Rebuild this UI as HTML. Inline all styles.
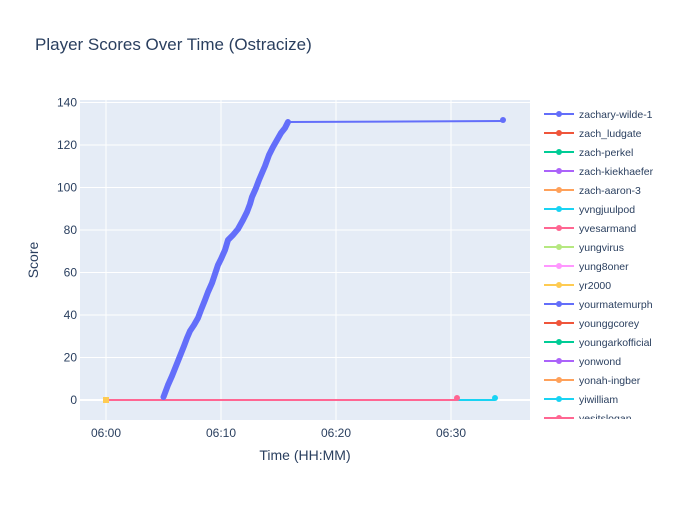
<!DOCTYPE html>
<html><head><meta charset="utf-8"><style>
body{margin:0;background:#fff;font-family:"Liberation Sans",sans-serif;}
</style></head><body>
<svg width="700" height="500" xmlns="http://www.w3.org/2000/svg" font-family="Liberation Sans, sans-serif">
<rect width="700" height="500" fill="#fff"/>
<text x="35" y="50" font-size="17" fill="#2a3f5f">Player Scores Over Time (Ostracize)</text>
<rect x="80" y="100" width="450" height="320" fill="#e5ecf6"/>
<g stroke="#fff" stroke-width="1">
<line x1="80" x2="530" y1="102.5" y2="102.5"/><line x1="80" x2="530" y1="145" y2="145"/>
<line x1="80" x2="530" y1="187.5" y2="187.5"/><line x1="80" x2="530" y1="230" y2="230"/>
<line x1="80" x2="530" y1="272.5" y2="272.5"/><line x1="80" x2="530" y1="315" y2="315"/>
<line x1="80" x2="530" y1="357.5" y2="357.5"/>
<line x1="106" x2="106" y1="100" y2="420"/><line x1="221" x2="221" y1="100" y2="420"/>
<line x1="336" x2="336" y1="100" y2="420"/><line x1="451" x2="451" y1="100" y2="420"/>
</g>
<line x1="80" x2="530" y1="400" y2="400" stroke="#fff" stroke-width="2"/>
<g font-size="12" fill="#2a3f5f" text-anchor="end">
<text x="77" y="106.5">140</text><text x="77" y="149">120</text><text x="77" y="191.5">100</text>
<text x="77" y="234">80</text><text x="77" y="276.5">60</text><text x="77" y="319">40</text>
<text x="77" y="361.5">20</text><text x="77" y="404">0</text>
</g>
<g font-size="12" fill="#2a3f5f" text-anchor="middle">
<text x="106" y="437">06:00</text><text x="221" y="437">06:10</text>
<text x="336" y="437">06:20</text><text x="451" y="437">06:30</text>
</g>
<text x="305" y="460" font-size="14" fill="#2a3f5f" text-anchor="middle">Time (HH:MM)</text>
<text transform="translate(38,260) rotate(-90)" font-size="14" fill="#2a3f5f" text-anchor="middle">Score</text>
<line x1="106" x2="457" y1="400" y2="400" stroke="#ff6692" stroke-width="2"/>
<line x1="457" x2="495" y1="400" y2="400" stroke="#19d3f3" stroke-width="2"/>
<circle cx="457" cy="398" r="3" fill="#ff6692"/>
<circle cx="495" cy="398" r="3" fill="#19d3f3"/>
<rect x="103" y="397" width="6" height="6" fill="#fecb52"/>
<line x1="288" x2="503" y1="122" y2="121" stroke="#636efa" stroke-width="2"/>
<circle cx="503" cy="120" r="3" fill="#636efa"/>
<polyline fill="none" stroke="#636efa" stroke-width="6" stroke-linecap="round" stroke-linejoin="round"
points="163.5,397 168,385 172,376 176,366 180,356 184,346 187,338 190,331 194,325 198,318 201,310 205,300 208,292 212,283 215,274 218,265 221,259 225,250 228,240 233,235 238,229 243,220 247,212 250,204 252,197 256,188 259,180 262,173 265,166 269,155 273,147 277,140 281,133 285,128 288,122"/>
<g font-size="10.5" fill="#2a3f5f">
<g stroke-width="2">
<line x1="544" x2="574" y1="114" y2="114" stroke="#636efa"/><circle cx="559" cy="114" r="3" fill="#636efa"/>
<line x1="544" x2="574" y1="133" y2="133" stroke="#ef553b"/><circle cx="559" cy="133" r="3" fill="#ef553b"/>
<line x1="544" x2="574" y1="152" y2="152" stroke="#00cc96"/><circle cx="559" cy="152" r="3" fill="#00cc96"/>
<line x1="544" x2="574" y1="171" y2="171" stroke="#ab63fa"/><circle cx="559" cy="171" r="3" fill="#ab63fa"/>
<line x1="544" x2="574" y1="190" y2="190" stroke="#ffa15a"/><circle cx="559" cy="190" r="3" fill="#ffa15a"/>
<line x1="544" x2="574" y1="209" y2="209" stroke="#19d3f3"/><circle cx="559" cy="209" r="3" fill="#19d3f3"/>
<line x1="544" x2="574" y1="228" y2="228" stroke="#ff6692"/><circle cx="559" cy="228" r="3" fill="#ff6692"/>
<line x1="544" x2="574" y1="247" y2="247" stroke="#b6e880"/><circle cx="559" cy="247" r="3" fill="#b6e880"/>
<line x1="544" x2="574" y1="266" y2="266" stroke="#ff97ff"/><circle cx="559" cy="266" r="3" fill="#ff97ff"/>
<line x1="544" x2="574" y1="285" y2="285" stroke="#fecb52"/><circle cx="559" cy="285" r="3" fill="#fecb52"/>
<line x1="544" x2="574" y1="304" y2="304" stroke="#636efa"/><circle cx="559" cy="304" r="3" fill="#636efa"/>
<line x1="544" x2="574" y1="323" y2="323" stroke="#ef553b"/><circle cx="559" cy="323" r="3" fill="#ef553b"/>
<line x1="544" x2="574" y1="342" y2="342" stroke="#00cc96"/><circle cx="559" cy="342" r="3" fill="#00cc96"/>
<line x1="544" x2="574" y1="361" y2="361" stroke="#ab63fa"/><circle cx="559" cy="361" r="3" fill="#ab63fa"/>
<line x1="544" x2="574" y1="380" y2="380" stroke="#ffa15a"/><circle cx="559" cy="380" r="3" fill="#ffa15a"/>
<line x1="544" x2="574" y1="399" y2="399" stroke="#19d3f3"/><circle cx="559" cy="399" r="3" fill="#19d3f3"/>
<line x1="544" x2="574" y1="418" y2="418" stroke="#ff6692"/><circle cx="559" cy="418" r="3" fill="#ff6692"/>
</g>
<text x="579" y="118">zachary-wilde-1</text><text x="579" y="137">zach_ludgate</text>
<text x="579" y="156">zach-perkel</text><text x="579" y="175">zach-kiekhaefer</text>
<text x="579" y="194">zach-aaron-3</text><text x="579" y="213">yvngjuulpod</text>
<text x="579" y="232">yvesarmand</text><text x="579" y="251">yungvirus</text>
<text x="579" y="270">yung8oner</text><text x="579" y="289">yr2000</text>
<text x="579" y="308">yourmatemurph</text><text x="579" y="327">younggcorey</text>
<text x="579" y="346">youngarkofficial</text><text x="579" y="365">yonwond</text>
<text x="579" y="384">yonah-ingber</text><text x="579" y="403">yiwilliam</text>
<text x="579" y="422">yesitslogan</text>
</g>
<rect x="540" y="419" width="160" height="20" fill="#fff"/>
</svg>
</body></html>
